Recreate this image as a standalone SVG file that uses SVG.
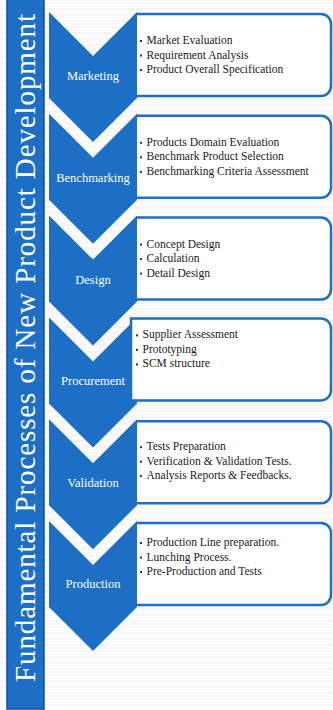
<svg xmlns="http://www.w3.org/2000/svg" width="333" height="710" viewBox="0 0 333 710">
<defs>
<pattern id="bgp" width="8" height="6" patternUnits="userSpaceOnUse">
<rect width="8" height="6" fill="#fcfcfc"/>
<path d="M0,4 L2,2 L4,4 L6,2 L8,4" fill="none" stroke="#eeeeee" stroke-width="0.8"/>
</pattern>
<style>
.chev{fill:#1d6ec5;}
.box{fill:#ffffff;stroke:#1d6ec5;stroke-width:2.5;}
.lab{font-family:"Liberation Serif","Times New Roman",serif;font-size:12.5px;fill:#ffffff;text-anchor:middle;}
.itm{font-family:"Liberation Serif","Times New Roman",serif;font-size:11.5px;fill:#1a1a1a;}
.bul{fill:#333333;}
.ttl{font-family:"Liberation Serif","Times New Roman",serif;font-size:29px;fill:#ffffff;text-anchor:middle;}
</style>
</defs>
<rect width="333" height="710" fill="url(#bgp)"/>
<g id="title">
<rect x="7" y="-2" width="37" height="711" fill="#1d6ec5" stroke="#0f4f98" stroke-width="1.5"/>
<text class="ttl" transform="translate(35,348) rotate(-90)" textLength="668" lengthAdjust="spacing">Fundamental Processes of New Product Development</text>
</g>
<g id="connectors"/>
<g id="marketing" transform="translate(0,12)">
<path class="box" d="M136,2 H321 A10,10 0 0 1 331,12 V74 A10,10 0 0 1 321,84 H136"/>
<path class="chev" d="M49,0 L93,44 L137,0 V86 L93,130 L49,86 Z"/>
<text class="lab" x="93" y="68">Marketing</text>
<rect class="bul" x="140" y="28" width="2" height="2"/>
<rect class="bul" x="140" y="42.5" width="2" height="2"/>
<rect class="bul" x="140" y="57" width="2" height="2"/>
<text class="itm" x="146.5" y="32">Market Evaluation</text>
<text class="itm" x="146.5" y="46.5">Requirement Analysis</text>
<text class="itm" x="146.5" y="61">Product Overall Specification</text>
</g>
<g id="benchmarking" transform="translate(0,113.8)">
<path class="box" d="M136,2 H321 A10,10 0 0 1 331,12 V74 A10,10 0 0 1 321,84 H136"/>
<path class="chev" d="M49,0 L93,44 L137,0 V86 L93,130 L49,86 Z"/>
<text class="lab" x="93" y="68">Benchmarking</text>
<rect class="bul" x="140" y="28" width="2" height="2"/>
<rect class="bul" x="140" y="42.5" width="2" height="2"/>
<rect class="bul" x="140" y="57" width="2" height="2"/>
<text class="itm" x="146.5" y="32">Products Domain Evaluation</text>
<text class="itm" x="146.5" y="46.5">Benchmark Product Selection</text>
<text class="itm" x="146.5" y="61">Benchmarking Criteria Assessment</text>
</g>
<g id="design" transform="translate(0,215.6)">
<path class="box" d="M136,2 H321 A10,10 0 0 1 331,12 V74 A10,10 0 0 1 321,84 H136"/>
<path class="chev" d="M49,0 L93,44 L137,0 V86 L93,130 L49,86 Z"/>
<text class="lab" x="93" y="68">Design</text>
<rect class="bul" x="140" y="28" width="2" height="2"/>
<rect class="bul" x="140" y="42.5" width="2" height="2"/>
<rect class="bul" x="140" y="57" width="2" height="2"/>
<text class="itm" x="146.5" y="32">Concept Design</text>
<text class="itm" x="146.5" y="46.5">Calculation</text>
<text class="itm" x="146.5" y="61">Detail Design</text>
</g>
<g id="procurement" transform="translate(0,317.4)">
<path class="chev" d="M49,0 L93,44 L137,0 V86 L93,130 L49,86 Z"/>
<path class="box" d="M131,1 H321 A10,10 0 0 1 331,11 V73 A10,10 0 0 1 321,83 H131 Z"/>
<text class="lab" x="93" y="68">Procurement</text>
<rect class="bul" x="136" y="17" width="2" height="2"/>
<rect class="bul" x="136" y="31.5" width="2" height="2"/>
<rect class="bul" x="136" y="46" width="2" height="2"/>
<text class="itm" x="142.5" y="21">Supplier Assessment</text>
<text class="itm" x="142.5" y="35.5">Prototyping</text>
<text class="itm" x="142.5" y="50">SCM structure</text>
</g>
<g id="validation" transform="translate(0,419.2)">
<path class="box" d="M136,2 H321 A10,10 0 0 1 331,12 V74 A10,10 0 0 1 321,84 H136"/>
<path class="chev" d="M49,0 L93,44 L137,0 V86 L93,130 L49,86 Z"/>
<text class="lab" x="93" y="68">Validation</text>
<rect class="bul" x="140" y="27" width="2" height="2"/>
<rect class="bul" x="140" y="41.5" width="2" height="2"/>
<rect class="bul" x="140" y="56" width="2" height="2"/>
<text class="itm" x="146.5" y="31">Tests Preparation</text>
<text class="itm" x="146.5" y="45.5">Verification &amp; Validation Tests.</text>
<text class="itm" x="146.5" y="60">Analysis Reports &amp; Feedbacks.</text>
</g>
<g id="production" transform="translate(0,521)">
<path class="box" d="M136,2 H321 A10,10 0 0 1 331,12 V74 A10,10 0 0 1 321,84 H136"/>
<path class="chev" d="M49,0 L93,44 L137,0 V86 L93,130 L49,86 Z"/>
<text class="lab" x="93" y="67">Production</text>
<rect class="bul" x="140" y="21" width="2" height="2"/>
<rect class="bul" x="140" y="35.5" width="2" height="2"/>
<rect class="bul" x="140" y="50" width="2" height="2"/>
<text class="itm" x="146.5" y="25">Production Line preparation.</text>
<text class="itm" x="146.5" y="39.5">Lunching Process.</text>
<text class="itm" x="146.5" y="54">Pre-Production and Tests</text>
</g>
</svg>
